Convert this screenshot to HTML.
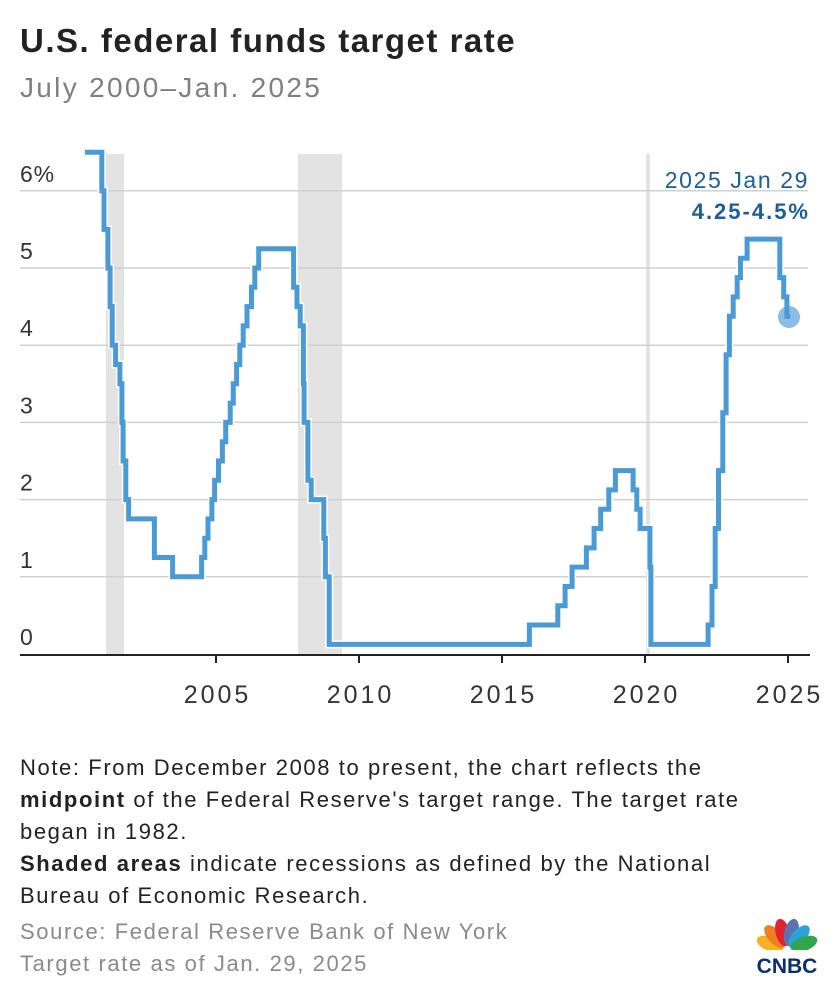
<!DOCTYPE html>
<html><head><meta charset="utf-8"><style>
body{margin:0;background:#fff;width:840px;height:1000px;overflow:hidden;font-family:"Liberation Sans",sans-serif;}
.t{position:absolute;white-space:nowrap;}
</style></head><body>
<div class="t" style="left:20px;top:22px;font-size:33px;letter-spacing:1.5px;font-weight:bold;color:#222;">U.S. federal funds target rate</div>
<div class="t" style="left:20px;top:72px;font-size:28px;letter-spacing:2.3px;color:#808080;">July 2000–Jan. 2025</div>
<svg id="c" width="840" height="1000" style="position:absolute;left:0;top:0" xmlns="http://www.w3.org/2000/svg"></svg>
<div class="t" style="left:20px;top:752px;font-size:22px;letter-spacing:1.6px;line-height:32px;color:#222;">Note: From December 2008 to present, the chart reflects the<br><b>midpoint</b> of the Federal Reserve's target range. The target rate<br>began in 1982.<br><b>Shaded areas</b> indicate recessions as defined by the National<br>Bureau of Economic Research.</div>
<div class="t" style="left:20px;top:916px;font-size:22px;letter-spacing:1.6px;line-height:32px;color:#8a8a8a;">Source: Federal Reserve Bank of New York<br>Target rate as of Jan. 29, 2025</div>
<script>
const X=y=>73+(y-2000)*28.6, Y=r=>654-77.2*r;
const d=s=>{const[a,b,c]=s.split('-').map(Number);return a+(b-1)/12+(c-1)/365;};
const data=[["2000-06-01",6.5],["2001-01-03",6],["2001-01-31",5.5],["2001-03-20",5],["2001-04-18",4.5],["2001-05-15",4],["2001-06-27",3.75],["2001-08-21",3.5],["2001-09-17",3],["2001-10-02",2.5],["2001-11-06",2],["2001-12-11",1.75],["2002-11-06",1.25],["2003-06-25",1],["2004-06-30",1.25],["2004-08-10",1.5],["2004-09-21",1.75],["2004-11-10",2],["2004-12-14",2.25],["2005-02-02",2.5],["2005-03-22",2.75],["2005-05-03",3],["2005-06-30",3.25],["2005-08-09",3.5],["2005-09-20",3.75],["2005-11-01",4],["2005-12-13",4.25],["2006-01-31",4.5],["2006-03-28",4.75],["2006-05-10",5],["2006-06-29",5.25],["2007-09-18",4.75],["2007-10-31",4.5],["2007-12-11",4.25],["2008-01-22",3.5],["2008-01-30",3],["2008-03-18",2.25],["2008-04-30",2],["2008-10-08",1.5],["2008-10-29",1],["2008-12-16",0.125],["2015-12-16",0.375],["2016-12-14",0.625],["2017-03-15",0.875],["2017-06-14",1.125],["2017-12-13",1.375],["2018-03-21",1.625],["2018-06-13",1.875],["2018-09-26",2.125],["2018-12-19",2.375],["2019-07-31",2.125],["2019-09-18",1.875],["2019-10-30",1.625],["2020-03-03",1.125],["2020-03-15",0.125],["2022-03-16",0.375],["2022-05-04",0.875],["2022-06-15",1.625],["2022-07-27",2.375],["2022-09-21",3.125],["2022-11-02",3.875],["2022-12-14",4.375],["2023-02-01",4.625],["2023-03-22",4.875],["2023-05-03",5.125],["2023-07-26",5.375],["2024-09-18",4.875],["2024-11-07",4.625],["2024-12-18",4.375]];
let p="M"+X(d(data[0][0])).toFixed(1)+","+Y(data[0][1]).toFixed(1);
for(let i=1;i<data.length;i++){const x=X(d(data[i][0])).toFixed(1);p+=" H"+x+" V"+Y(data[i][1]).toFixed(1);}
p+=" H"+X(d("2025-01-29")).toFixed(1);
let s='';
s+=`<rect x="106" y="154" width="18" height="500" fill="#e3e3e3"/><rect x="298" y="154" width="44" height="500" fill="#e3e3e3"/><rect x="646" y="154" width="4" height="500" fill="#e3e3e3"/>`;
for(let r=1;r<=6;r++){s+=`<line x1="20" x2="808" y1="${Y(r)}" y2="${Y(r)}" stroke="#d0d0d0" stroke-width="1.5"/>`;}
const lab=["0","1","2","3","4","5","6%"];
for(let r=0;r<=6;r++){s+=`<text x="20" y="${Y(r)-9}" font-size="23" letter-spacing="0.8" fill="#333" font-family="Liberation Sans">${lab[r]}</text>`;}
s+=`<line x1="20" x2="810" y1="655" y2="655" stroke="#222" stroke-width="2"/>`;
[2005,2010,2015,2020,2025].forEach(y=>{const x=X(y);s+=`<line x1="${x}" x2="${x}" y1="655" y2="663" stroke="#222" stroke-width="2"/><text x="${x+1.5}" y="703" text-anchor="middle" font-size="25" letter-spacing="3" fill="#333" font-family="Liberation Sans">${y}</text>`;});
s+=`<path d="${p}" fill="none" stroke="#fff" stroke-width="8" stroke-linejoin="miter"/>`;
s+=`<path d="${p}" fill="none" stroke="#4a9ad6" stroke-width="5" stroke-linejoin="miter"/>`;
s+=`<circle cx="789" cy="317" r="11" fill="#4a9ad6" opacity="0.65"/>`;
s+=`<text x="809" y="188" text-anchor="end" font-size="23" letter-spacing="1.6" fill="#1b5e98" font-family="Liberation Sans">2025 Jan 29</text>`;
s+=`<text x="810" y="219" text-anchor="end" font-size="22" font-weight="bold" letter-spacing="2" fill="#1b5e98" font-family="Liberation Sans">4.25-4.5%</text>`;
const cols=["#f6b221","#ef7d23","#e4222e","#5a72ad","#2aa3d9","#32a64a"];
for(let i=0;i<6;i++){const a=-70+i*28;s+=`<ellipse cx="787" cy="932" rx="7" ry="14" fill="${cols[i]}" transform="rotate(${a} 787 950)"/>`;}
s+=`<rect x="755" y="950" width="65" height="6" fill="#fff"/>`;
s+=`<text x="787" y="973" text-anchor="middle" font-size="21" font-weight="bold" fill="#0a2f6e" font-family="Liberation Sans">CNBC</text>`;
document.getElementById('c').innerHTML=s;
</script>
</body></html>
